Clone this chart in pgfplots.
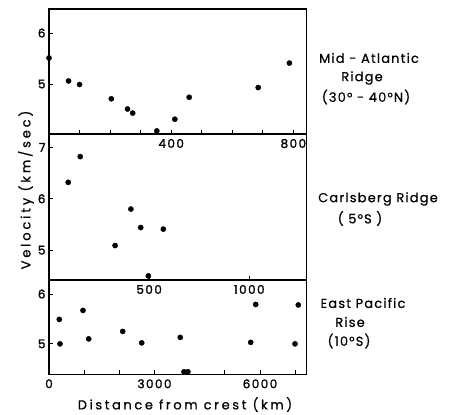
\documentclass[border=0pt]{standalone}
\usepackage{pgfplots}
\pgfplotsset{compat=1.18}
\usepackage{fontspec}
\setmainfont{Poppins}
\newcommand\lab{\fontsize{13}{15}\selectfont\addfontfeatures{LetterSpace=9,FakeBold=0.6}}
\newcommand\num{\fontsize{12}{14}\selectfont\addfontfeatures{LetterSpace=12,FakeBold=1.6}}
\begin{document}
\begin{tikzpicture}
\path[use as bounding box] (0pt,0pt) rectangle (454pt,414pt);
\pgfplotsset{
  panel/.style={
    scale only axis, width=257.5pt, anchor=south west,
    axis line style={line width=1.1pt},
    tick style={line width=0.9pt, black},
    tick align=inside, xtick pos=bottom, ytick pos=left,
    major tick length=4pt,
    ticklabel style={font=\num},
    xticklabel style={yshift=-1.5pt},
    /pgf/number format/assume math mode=true,
    /pgf/number format/1000 sep={},
    clip=false,
  },
  dots/.style={only marks, mark=*, mark size=2.6pt, black},
}

% Mid-Atlantic Ridge, distance 0-800 km
\begin{axis}[panel, at={(49pt,280pt)}, height=125pt,
  xmin=0, xmax=843, ymin=4.02, ymax=6.47,
  xtick={0,100,...,800}, xticklabels={,,,,400,,,,800},
  ytick={5,6}]
\addplot[dots] coordinates {
  (0,5.51) (64,5.06) (100,4.99) (204,4.71) (257,4.51) (274,4.43)
  (353,4.08) (412,4.31) (459,4.74) (685,4.93) (787,5.41)};
\end{axis}

% Carlsberg Ridge
\begin{axis}[panel, at={(49pt,134pt)}, height=146pt,
  xmin=0, xmax=1286, ymin=4.42, ymax=7.26,
  xtick={500,1000}, ytick={5,6,7}]
\addplot[dots] coordinates {
  (96,6.32) (156,6.82) (330,5.09) (409,5.80) (458,5.44) (571,5.41) (496,4.50)};
\end{axis}

% East Pacific Rise
\begin{axis}[panel, at={(49pt,39.7pt)}, height=94.3pt,
  xmin=0, xmax=7322, ymin=4.39, ymax=6.28,
  xtick={0,1000,...,7000}, xticklabels={0,,,3000,,,6000,},
  ytick={5,6}]
\addplot[dots] coordinates {
  (293,5.49) (313,5.00) (967,5.67) (1129,5.10) (2096,5.25) (2636,5.02)
  (3733,5.13) (3839,4.44) (3950,4.44) (5735,5.03) (5877,5.79)
  (7088,5.78) (6995,5.00)};
\end{axis}

\node[rotate=90] at (26pt,224pt) {\lab\addfontfeatures{LetterSpace=22}Velocity (km/sec)};
\node at (185pt,9.5pt) {\lab\addfontfeatures{LetterSpace=20}Distance from crest (km)};

\node at (369pt,356pt) {\lab Mid - Atlantic};
\node at (362pt,336pt) {\lab Ridge};
\node at (366pt,317pt) {\lab (30° - 40°N)};
\node at (378pt,215pt) {\lab Carlsberg Ridge};
\node at (360pt,195.5pt) {\lab ( 5°S )};
\node at (363pt,111pt) {\lab East Pacific};
\node at (350pt,92pt) {\lab Rise};
\node at (349pt,73pt) {\lab (10°S)};
\end{tikzpicture}
\end{document}
